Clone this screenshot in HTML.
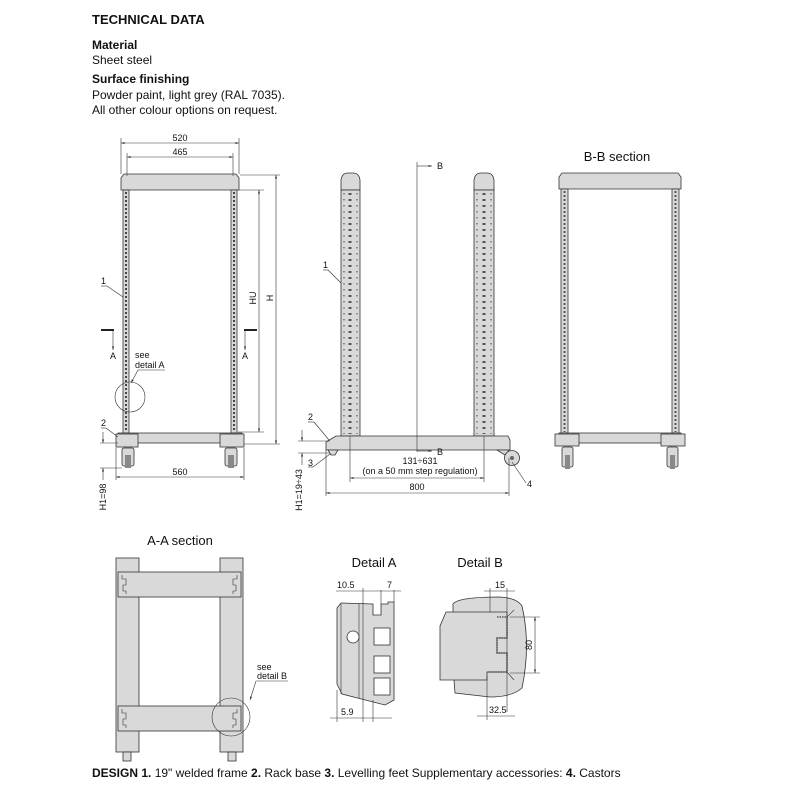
<!DOCTYPE html>
<html><head><meta charset="utf-8"><style>
html,body{margin:0;padding:0;background:#fff}
svg{display:block}
text{font-family:"Liberation Sans",sans-serif;fill:#111}
.s{fill:#d9d9d9;stroke:#333;stroke-width:0.8}
.l{stroke:#333;stroke-width:0.6;fill:none}
.t{font-size:9px}
</style></head><body>
<svg width="800" height="800" viewBox="0 0 800 800" xmlns="http://www.w3.org/2000/svg">
<defs>
<marker id="a" viewBox="0 0 10 10" refX="10" refY="5" markerWidth="6" markerHeight="6" orient="auto-start-reverse"><path d="M0,2 L10,5 L0,8z" fill="#333"/></marker>
</defs>
<!-- header -->
<text x="92" y="24" style="font-size:13px;font-weight:bold">TECHNICAL DATA</text>
<text x="92" y="49" style="font-size:12px;font-weight:bold">Material</text>
<text x="92" y="64" style="font-size:12px">Sheet steel</text>
<text x="92" y="83" style="font-size:12px;font-weight:bold">Surface finishing</text>
<text x="92" y="99" style="font-size:12px">Powder paint, light grey (RAL 7035).</text>
<text x="92" y="114" style="font-size:12px">All other colour options on request.</text>

<!-- FRONT VIEW -->
<path class="s" d="M124,174 L236,174 L239,178 L239,190 L121,190 L121,178z"/>
<rect class="s" x="123" y="190" width="6" height="243"/>
<rect class="s" x="231" y="190" width="6" height="243"/>
<line x1="126" y1="192" x2="126" y2="432" stroke="#444" stroke-width="2" stroke-dasharray="2,2"/>
<line x1="234" y1="192" x2="234" y2="432" stroke="#444" stroke-width="2" stroke-dasharray="2,2"/>
<rect class="s" x="118" y="433" width="124" height="10"/>
<rect class="s" x="116" y="434" width="22" height="13"/>
<rect class="s" x="220" y="434" width="24" height="13"/>
<rect class="s" x="122" y="448" width="12" height="18" rx="2"/>
<rect class="s" x="225" y="448" width="12" height="18" rx="2"/>
<rect x="125" y="455" width="6" height="13" fill="#888"/>
<rect x="228" y="455" width="6" height="13" fill="#888"/>
<line class="l" x1="121" y1="138" x2="121" y2="174"/><line class="l" x1="239" y1="138" x2="239" y2="174"/>
<line class="l" x1="121" y1="143" x2="239" y2="143" marker-start="url(#a)" marker-end="url(#a)"/>
<text class="t" x="180" y="141" text-anchor="middle">520</text>
<line class="l" x1="127" y1="153" x2="127" y2="176"/><line class="l" x1="233" y1="153" x2="233" y2="176"/>
<line class="l" x1="127" y1="157" x2="233" y2="157" marker-start="url(#a)" marker-end="url(#a)"/>
<text class="t" x="180" y="155" text-anchor="middle">465</text>
<line class="l" x1="240" y1="175" x2="280" y2="175"/><line class="l" x1="244" y1="444" x2="280" y2="444"/>
<line class="l" x1="276" y1="175" x2="276" y2="444" marker-start="url(#a)" marker-end="url(#a)"/>
<text class="t" transform="translate(273,298) rotate(-90)" text-anchor="middle">H</text>
<line class="l" x1="238" y1="190" x2="264" y2="190"/><line class="l" x1="238" y1="432" x2="264" y2="432"/>
<line class="l" x1="259" y1="190" x2="259" y2="432" marker-start="url(#a)" marker-end="url(#a)"/>
<text class="t" transform="translate(256,298) rotate(-90)" text-anchor="middle">HU</text>
<line class="l" x1="116" y1="448" x2="116" y2="480"/><line class="l" x1="244" y1="448" x2="244" y2="480"/>
<line class="l" x1="116" y1="477" x2="244" y2="477" marker-start="url(#a)" marker-end="url(#a)"/>
<text class="t" x="180" y="475" text-anchor="middle">560</text>
<line class="l" x1="100" y1="443" x2="118" y2="443"/><line class="l" x1="100" y1="468" x2="122" y2="468"/>
<line class="l" x1="103" y1="432" x2="103" y2="443" marker-end="url(#a)"/>
<line class="l" x1="103" y1="480" x2="103" y2="468" marker-end="url(#a)"/>
<text class="t" transform="translate(106,497) rotate(-90)" text-anchor="middle">H1=98</text>
<line x1="101" y1="330" x2="114" y2="330" stroke="#222" stroke-width="2"/>
<line x1="244" y1="330" x2="257" y2="330" stroke="#222" stroke-width="2"/>
<line class="l" x1="113" y1="331" x2="113" y2="350" marker-end="url(#a)"/>
<line class="l" x1="245" y1="331" x2="245" y2="350" marker-end="url(#a)"/>
<text class="t" x="110" y="359">A</text><text class="t" x="242" y="359">A</text>
<circle cx="130" cy="397" r="15" class="l"/>
<text class="t" x="135" y="358">see</text><text class="t" x="135" y="368">detail A</text>
<line class="l" x1="165" y1="370" x2="138" y2="370"/><line class="l" x1="138" y1="370" x2="131" y2="383" marker-end="url(#a)"/>
<text class="t" x="101" y="284">1</text><line class="l" x1="101" y1="286" x2="107" y2="286"/><line class="l" x1="107" y1="286" x2="123" y2="297"/>
<text class="t" x="101" y="426">2</text><line class="l" x1="101" y1="428" x2="106" y2="428"/><line class="l" x1="106" y1="428" x2="118" y2="437"/>

<!-- SIDE VIEW -->
<path class="s" d="M341,190 L341,180 Q342,173 348,173 L353,173 Q359,173 360,180 L360,190z"/>
<path class="s" d="M474,190 L474,180 Q475,173 481,173 L487,173 Q493,173 494,180 L494,190z"/>
<rect class="s" x="341" y="190" width="19" height="246" fill="#dedede"/>
<rect class="s" x="474" y="190" width="20" height="246" fill="#dedede"/>
<line x1="350" y1="193" x2="350" y2="434" stroke="#555" stroke-width="3" stroke-dasharray="2,4"/>
<line x1="344" y1="193" x2="344" y2="434" stroke="#777" stroke-width="1.5" stroke-dasharray="1.5,4.5"/>
<line x1="357" y1="193" x2="357" y2="434" stroke="#777" stroke-width="1.5" stroke-dasharray="1.5,4.5"/>
<line x1="484" y1="193" x2="484" y2="434" stroke="#555" stroke-width="3" stroke-dasharray="2,4"/>
<line x1="477" y1="193" x2="477" y2="434" stroke="#777" stroke-width="1.5" stroke-dasharray="1.5,4.5"/>
<line x1="491" y1="193" x2="491" y2="434" stroke="#777" stroke-width="1.5" stroke-dasharray="1.5,4.5"/>
<path class="s" d="M336,436 L508,436 L510,440 L510,450 L326,450 L326,442z"/>
<path class="s" d="M328,450 L338,450 L335,455 L331,455z"/>
<path class="s" d="M497,450 L508,450 L513,458 L505,455z"/>
<circle cx="512" cy="458" r="7.5" class="s"/><circle cx="512" cy="458" r="2" fill="#666"/>
<line class="l" x1="417" y1="162" x2="417" y2="452"/>
<line class="l" x1="417" y1="166" x2="432" y2="166" marker-end="url(#a)"/>
<line class="l" x1="417" y1="451" x2="432" y2="451" marker-end="url(#a)"/>
<text class="t" x="437" y="169">B</text><text class="t" x="437" y="455">B</text>
<text class="t" x="420" y="464" text-anchor="middle">131÷631</text>
<text class="t" x="420" y="474" text-anchor="middle">(on a 50 mm step regulation)</text>
<line class="l" x1="350" y1="436" x2="350" y2="482"/><line class="l" x1="484" y1="436" x2="484" y2="482"/>
<line class="l" x1="350" y1="478" x2="484" y2="478" marker-start="url(#a)" marker-end="url(#a)"/>
<line class="l" x1="326" y1="450" x2="326" y2="496"/><line class="l" x1="509" y1="458" x2="509" y2="496"/>
<line class="l" x1="326" y1="493" x2="509" y2="493" marker-start="url(#a)" marker-end="url(#a)"/>
<text class="t" x="417" y="490" text-anchor="middle">800</text>
<line class="l" x1="298" y1="441" x2="330" y2="441"/><line class="l" x1="298" y1="453" x2="330" y2="453"/>
<line class="l" x1="302" y1="430" x2="302" y2="441" marker-end="url(#a)"/>
<line class="l" x1="302" y1="465" x2="302" y2="453" marker-end="url(#a)"/>
<text class="t" transform="translate(302,490) rotate(-90)" text-anchor="middle">H1=19÷43</text>
<text class="t" x="323" y="268">1</text><line class="l" x1="323" y1="270" x2="328" y2="270"/><line class="l" x1="328" y1="270" x2="341" y2="283"/>
<text class="t" x="308" y="420">2</text><line class="l" x1="308" y1="422" x2="314" y2="422"/><line class="l" x1="314" y1="422" x2="329" y2="440"/>
<text class="t" x="308" y="466">3</text><line class="l" x1="308" y1="467" x2="313" y2="467"/><line class="l" x1="313" y1="467" x2="330" y2="454"/>
<text class="t" x="527" y="487">4</text><line class="l" x1="526" y1="483" x2="512" y2="462"/>

<!-- B-B -->
<text x="617" y="161" text-anchor="middle" style="font-size:13px">B-B section</text>
<path class="s" d="M562,173 L678,173 L681,177 L681,189 L559,189 L559,177z"/>
<rect class="s" x="561" y="189" width="7" height="244"/>
<rect class="s" x="672" y="189" width="7" height="244"/>
<line x1="564.5" y1="191" x2="564.5" y2="432" stroke="#555" stroke-width="2" stroke-dasharray="2,2"/>
<line x1="675.5" y1="191" x2="675.5" y2="432" stroke="#555" stroke-width="2" stroke-dasharray="2,2"/>
<rect class="s" x="559" y="433" width="122" height="10"/>
<rect class="s" x="555" y="434" width="24" height="12"/>
<rect class="s" x="661" y="434" width="24" height="12"/>
<rect class="s" x="562" y="447" width="11" height="20" rx="2"/>
<rect class="s" x="667" y="447" width="11" height="20" rx="2"/>
<rect x="565" y="455" width="5" height="14" fill="#888"/><rect x="670" y="455" width="5" height="14" fill="#888"/>

<!-- A-A -->
<text x="180" y="545" text-anchor="middle" style="font-size:13px">A-A section</text>
<rect class="s" x="116" y="558" width="23" height="194"/>
<rect class="s" x="220" y="558" width="23" height="194"/>
<rect class="s" x="118" y="572" width="123" height="25"/>
<rect class="s" x="118" y="706" width="123" height="25"/>
<path class="l" stroke-width="1" d="M122,575 v4 h4 v6 h-3 v6 h3 v3"/>
<path class="l" stroke-width="1" d="M237,575 v4 h-4 v6 h3 v6 h-3 v3"/>
<path class="l" stroke-width="1" d="M122,709 v4 h4 v6 h-3 v6 h3 v3"/>
<path class="l" stroke-width="1" d="M237,709 v4 h-4 v6 h3 v6 h-3 v3"/>
<rect class="s" x="123" y="752" width="8" height="9"/><rect class="s" x="228" y="752" width="8" height="9"/>
<circle cx="231" cy="717" r="19" class="l"/>
<text class="t" x="257" y="670">see</text><text class="t" x="257" y="679">detail B</text>
<line class="l" x1="288" y1="681" x2="256" y2="681"/><line class="l" x1="256" y1="681" x2="250" y2="700" marker-end="url(#a)"/>

<!-- Detail A -->
<text x="374" y="567" text-anchor="middle" style="font-size:13px">Detail A</text>
<path class="s" d="M341,603 L373,604 L373,615 L381,615 L381,604 L388,604 L388,602 L394,602 L394,700 L385,705 L342,694 L337,684 L337,608z"/>
<line class="l" x1="341" y1="604" x2="341" y2="694"/><line class="l" x1="359" y1="604" x2="359" y2="698"/>
<rect x="374" y="628" width="16" height="17" fill="#fff" stroke="#333" stroke-width="0.8"/>
<rect x="374" y="656" width="16" height="17" fill="#fff" stroke="#333" stroke-width="0.8"/>
<rect x="374" y="678" width="16" height="17" fill="#fff" stroke="#333" stroke-width="0.8"/>
<circle cx="353" cy="637" r="6" fill="#fff" stroke="#333" stroke-width="0.8"/>
<line class="l" x1="363" y1="588" x2="363" y2="722"/><line class="l" x1="373" y1="700" x2="373" y2="722"/>
<line class="l" x1="381" y1="590" x2="381" y2="604"/><line class="l" x1="394" y1="590" x2="394" y2="602"/>
<line class="l" x1="336" y1="591" x2="363" y2="591"/><line class="l" x1="363" y1="591" x2="401" y2="591"/>
<text class="t" x="337" y="588">10.5</text>
<text class="t" x="387" y="588">7</text>
<line class="l" x1="337" y1="690" x2="337" y2="722"/>
<line class="l" x1="330" y1="718" x2="392" y2="718"/>
<text class="t" x="341" y="715">5.9</text>

<!-- Detail B -->
<text x="480" y="567" text-anchor="middle" style="font-size:13px">Detail B</text>
<path class="s" d="M453,612 L453,604 Q458,597 500,597 Q517,598 522,606 Q531,645 522,688 Q512,697 490,697 L455,693 L454,680 Z"/>
<path class="s" d="M446,612 L507,612 L507,638 L497,638 L497,653 L507,653 L507,672 L487,672 L487,680 L440,680 L440,626 Z"/>
<path d="M497,617 L507,617 L507,638 L497,638 L497,653 L507,653 L507,672 L487,672" stroke="#555" stroke-width="1.5" fill="none" stroke-dasharray="1.5,1"/>
<line class="l" x1="507" y1="617" x2="514" y2="610"/><line class="l" x1="507" y1="672" x2="514" y2="680"/>
<line class="l" x1="490" y1="588" x2="490" y2="612"/><line class="l" x1="507" y1="588" x2="507" y2="712"/>
<line class="l" x1="484" y1="591" x2="515" y2="591"/>
<text class="t" x="495" y="588">15</text>
<line class="l" x1="510" y1="617" x2="540" y2="617"/><line class="l" x1="510" y1="673" x2="540" y2="673"/>
<line class="l" x1="535" y1="617" x2="535" y2="673" marker-start="url(#a)" marker-end="url(#a)"/>
<text class="t" transform="translate(532,645) rotate(-90)" text-anchor="middle">80</text>
<line class="l" x1="487" y1="676" x2="487" y2="720"/>
<line class="l" x1="477" y1="716" x2="515" y2="716"/>
<text class="t" x="489" y="713">32.5</text>

<!-- footer -->
<text x="92" y="777" style="font-size:12px"><tspan font-weight="bold">DESIGN 1.</tspan> 19" welded frame <tspan font-weight="bold">2.</tspan> Rack base <tspan font-weight="bold">3.</tspan> Levelling feet Supplementary accessories: <tspan font-weight="bold">4.</tspan> Castors</text>
</svg>
</body></html>
